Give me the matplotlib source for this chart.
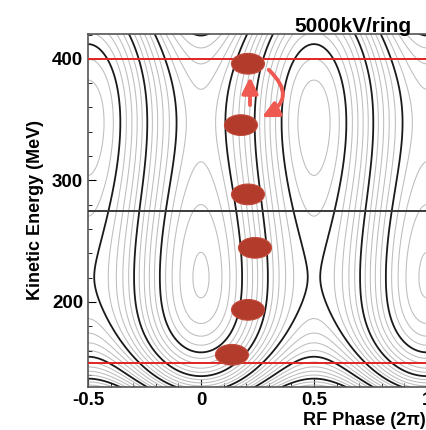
import numpy as np
import matplotlib
matplotlib.use("Agg")
import matplotlib.pyplot as plt
from matplotlib.patches import Ellipse, FancyArrowPatch
from matplotlib.ticker import MultipleLocator

plt.rcParams['font.family'] = ['Liberation Sans', 'DejaVu Sans']
plt.rcParams['font.weight'] = 'bold'
plt.rcParams['contour.negative_linestyle'] = 'solid'

# values
E_low_fp = 220.5      # fixed point near phase 0 (MeV)
E_high_fp = 347.5     # fixed point near phase 0.5 (MeV)
volt_ratio = 3.67     # RF voltage relative to the time-of-flight term
low_stretch = 0.27    # extra steepness below the lower fixed point

bunch_phase = [0.208, 0.177, 0.208, 0.239, 0.208, 0.137]
bunch_energy = [396, 345.5, 288.5, 244.5, 193.5, 156.5]

red_lines = [400, 150]
black_line = 274.5

x_ticks = [-0.5, 0, 0.5, 1]
x_ticklabels = ['-0.5', '0', '0.5', '1']
y_ticks = [200, 300, 400]

# Hamiltonian H = G(E) + V cos(2 pi phi), G cubic in E
phi = np.linspace(-0.55, 1.1, 700)
energy = np.linspace(125, 425, 700)
P, E = np.meshgrid(phi, energy)
Em = 0.5 * (E_low_fp + E_high_fp)
d = 0.5 * (E_high_fp - E_low_fp)
u = (E - Em) / d
xx = u - low_stretch * np.minimum(u + 1, 0) ** 2
H = xx ** 3 / 3 - xx + volt_ratio * np.cos(2 * np.pi * P)

sep = 2.0 / 3 - volt_ratio
base = sep + 0.015 * volt_ratio
step = 0.14 * volt_ratio
k = np.arange(-40, 40)
gray_levels = base + step * k[k % 5 != 0]
black_levels = base + step * k[k % 5 == 0]

fig = plt.figure(figsize=(4.27, 4.30), dpi=100)
ax = fig.add_axes([0.206, 0.100, 0.8204, 0.821])

ax.contour(P, E, H, levels=np.sort(gray_levels), colors='#bdbdbd', linewidths=0.75)
ax.contour(P, E, H, levels=np.sort(black_levels), colors='#1a1a1a', linewidths=1.3)

for e in red_lines:
    ax.axhline(e, color='#e02525', lw=1.4, zorder=3)
ax.axhline(black_line, color='#3a3a3a', lw=1.4, zorder=3)

for p, e in zip(bunch_phase, bunch_energy):
    ax.add_patch(Ellipse((p, e), 0.146, 17, facecolor='#b23b2b',
                         edgecolor='#c24a3a', lw=0.8, zorder=5))

arrow_col = '#ee5a52'
ax.add_patch(FancyArrowPatch((0.217, 362), (0.217, 385), arrowstyle='-|>',
                             mutation_scale=24, color=arrow_col, lw=2.8,
                             shrinkA=0, shrinkB=0, zorder=6))
ax.add_patch(FancyArrowPatch((0.30, 391), (0.27, 352), arrowstyle='-|>',
                             connectionstyle='arc3,rad=-0.7',
                             mutation_scale=24, color=arrow_col, lw=2.8,
                             shrinkA=0, shrinkB=0, zorder=6))

ax.set_xlim(-0.5, 1.05)
ax.set_ylim(130, 420.5)
ax.set_xticks(x_ticks)
ax.set_xticklabels(x_ticklabels)
ax.set_yticks(y_ticks)
ax.xaxis.set_minor_locator(MultipleLocator(0.1))
ax.yaxis.set_minor_locator(MultipleLocator(20))
ax.tick_params(which='both', direction='in', labelsize=13.5, top=False, right=False)
ax.tick_params(which='major', length=6)
ax.tick_params(which='minor', length=3)
for lab in ax.get_xticklabels() + ax.get_yticklabels():
    lab.set_fontweight('bold')
for s in ax.spines.values():
    s.set_color('#555555')
    s.set_linewidth(1.2)
ax.spines['right'].set_visible(False)

ax.set_ylabel('Kinetic Energy (MeV)', fontsize=13, fontweight='bold', labelpad=6)
fig.text(0.998, 0.022, 'RF Phase (2π)', ha='right', va='center', fontsize=13, fontweight='bold')
fig.text(0.963, 0.926, '5000kV/ring', ha='right', va='baseline', fontsize=15, fontweight='bold')

fig.savefig('out.png', dpi=100)
